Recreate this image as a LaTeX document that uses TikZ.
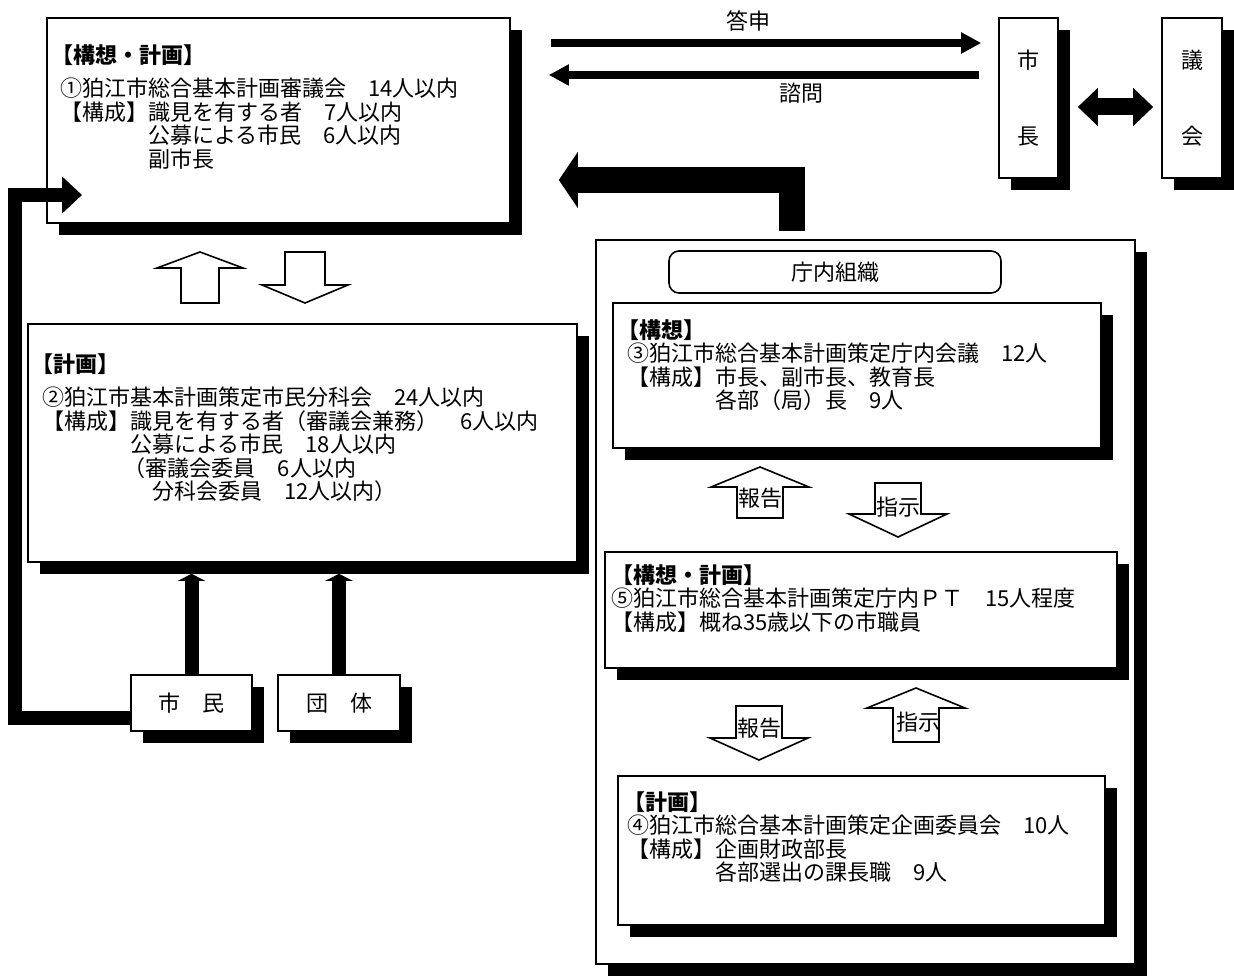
\documentclass[tikz,border=0pt]{standalone}
\usepackage{fontspec}
\setmainfont{Noto Sans CJK JP}
\usepackage{tikz}
\usetikzlibrary{arrows.meta,shadows}

% hollow block arrow: tip, signed length, shaft half width, head half width, signed head length
\newcommand{\blockarrow}[5]{%
  \draw[hollow] (#1) -- ++(#4,#5) -- ++({#3-#4},0) -- ++(0,{(#2)-(#5)})
    -- ++({-2*#3},0) -- ++(0,{(#5)-(#2)}) -- ++({#3-#4},0) -- cycle;}

\begin{document}
\begin{tikzpicture}[x=0.5pt,y=-0.5pt,
  font=\fontsize{11pt}{11.75pt}\selectfont,
  panel/.style={draw,fill=white,line width=0.8pt,inner sep=0pt,
    drop shadow={shadow xshift=6pt,shadow yshift=-6pt,fill=black,opacity=1}},
  memo/.style={anchor=north west,inner sep=0pt,align=left},
  hollow/.style={draw,fill=white,line width=0.8pt,line join=miter},
  reply/.style={line width=4pt,-{Triangle[length=10pt,width=10pt]}},
  bothway/.style={line width=8.5pt,{Triangle[length=10pt,width=18.5pt]}-{Triangle[length=10pt,width=18.5pt]}},
  heavy/.style={line width=13pt,line join=miter,-{Triangle[length=9.5pt,width=27.5pt]}},
  loopline/.style={line width=7pt,line join=miter,-{Triangle[length=10pt,width=18pt]}},
  feed/.style={line width=7pt,-{Triangle[length=3.5pt,width=13.5pt]}}]
  \useasboundingbox (0,0) rectangle (1234,977);

  % 庁内組織
  \node[panel,minimum width=269.5pt,minimum height=362pt] (chonai) at (865.5,602) {};
  \node[draw,fill=white,line width=0.8pt,rounded corners=5pt,minimum width=166pt,minimum height=21pt] (soshiki) at (835,272) {庁内組織};

  \node[panel,minimum width=244pt,minimum height=72.5pt] (kaigi) at (857,375.5) {};
  \node[memo] (kaigitext) at (627,319) {\hspace*{-0.45em}\textbf{【構想】}\\%
③狛江市総合基本計画策定庁内会議　12人\\%
【構成】市長、副市長、教育長\\%
\hspace*{4em}各部（局）長　9人};

  \node[panel,minimum width=256pt,minimum height=58pt] (ptteam) at (861,610) {};
  \node[memo] (ptteamtext) at (611,564) {\textbf{【構想・計画】}\\%
⑤狛江市総合基本計画策定庁内ＰＴ　15人程度\\%
【構成】概ね35歳以下の市職員};

  \node[panel,minimum width=243.5pt,minimum height=74.5pt] (kikaku) at (861.5,850.5) {};
  \node[memo] (kikakutext) at (627,791) {\hspace*{-0.2em}\textbf{【計画】}\\%
④狛江市総合基本計画策定企画委員会　10人\\%
【構成】企画財政部長\\%
\hspace*{4em}各部選出の課長職　9人};

  % 審議会・分科会
  \node[panel,minimum width=231.5pt,minimum height=102.5pt] (shingikai) at (278.5,120.5) {};
  \node[memo] (shingikaitext) at (60,44) {\hspace*{-0.4em}\textbf{【構想・計画】}\\[5pt]%
①狛江市総合基本計画審議会　14人以内\\%
【構成】識見を有する者　7人以内\\%
\hspace*{4em}公募による市民　6人以内\\%
\hspace*{4em}副市長};

  \node[panel,minimum width=274.5pt,minimum height=119pt] (bunkakai) at (302.5,443) {};
  \node[memo] (bunkakaitext) at (42,353) {\hspace*{-0.5em}\textbf{【計画】}\\[5pt]%
②狛江市基本計画策定市民分科会　24人以内\\%
【構成】識見を有する者（審議会兼務）　6人以内\\%
\hspace*{4em}公募による市民　18人以内\\%
\hspace*{3.7em}（審議会委員　6人以内\\%
\hspace*{5em}分科会委員　12人以内）};

  % 市長・議会
  \node[panel,minimum width=29.5pt,minimum height=80pt,align=center] (shicho) at (1028.5,98) {市\\[26pt]長};
  \node[panel,minimum width=30pt,minimum height=80pt,align=center] (gikai) at (1192,98) {議\\[26pt]会};

  % 市民・団体
  \node[panel,minimum width=60.5pt,minimum height=28pt] (shimin) at (191.5,703) {市　民};
  \node[panel,minimum width=61pt,minimum height=28pt] (dantai) at (339,703) {団　体};

  % 答申・諮問
  \coordinate (toshinrow) at (0,43);
  \coordinate (shimonrow) at (0,75);
  \draw[reply,shorten <=20pt,shorten >=8.5pt] (shingikai.east |- toshinrow) -- (shicho.west |- toshinrow);
  \draw[reply,shorten <=9.5pt,shorten >=19pt] (shicho.west |- shimonrow) -- (shingikai.east |- shimonrow);
  \node (toshinlabel) at (748,21) {答申};
  \node (shimonlabel) at (801,93) {諮問};

  \coordinate (gikairow) at (0,107);
  \draw[bothway,shorten <=9.5pt,shorten >=4pt] (shicho.east |- gikairow) -- (gikai.west |- gikairow);

  % 庁内から審議会へ
  \coordinate (reportcol) at (792,0);
  \coordinate (reportrow) at (0,180);
  \draw[heavy,shorten <=4pt,shorten >=24pt] (chonai.north -| reportcol) |- (shingikai.east |- reportrow);

  % 市民の参加
  \coordinate (loopcol) at (15,0);
  \coordinate (looptip) at (82,195);
  \draw[loopline] ([yshift=-7.5pt]shimin.west) -| (looptip -| loopcol) -- (looptip);
  \coordinate (feedtip) at ([yshift=-5.5pt]bunkakai.south);
  \draw[feed] (shimin.north) -- (shimin.north |- feedtip);
  \draw[feed] (dantai.north) -- (dantai.north |- feedtip);

  % block arrows
  \blockarrow{200,252}{51}{19}{43}{16}
  \blockarrow{305,303}{-51}{20}{43}{-18}
  \blockarrow{760,467}{51}{23}{49}{20}
  \blockarrow{898,537}{-54}{23}{49}{-23}
  \blockarrow{759,760}{-54}{23}{49}{-22}
  \blockarrow{916,688}{54}{23}{49}{20}
  \node (hokokuA) at (760,498) {報告};
  \node (shijiA) at (898,507) {指示};
  \node (hokokuB) at (759,728) {報告};
  \node (shijiB) at (918,722) {指示};
\end{tikzpicture}
\end{document}
